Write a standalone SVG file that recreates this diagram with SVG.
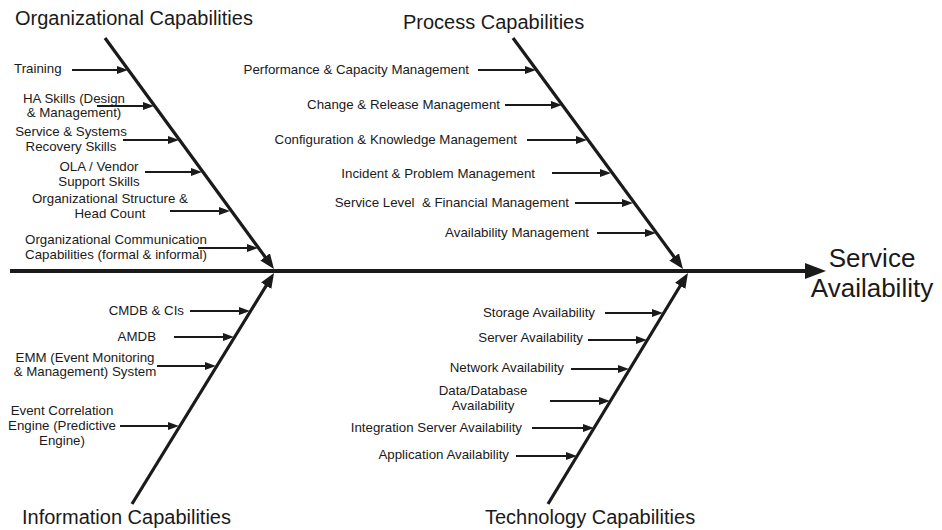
<svg xmlns="http://www.w3.org/2000/svg" width="942" height="530" viewBox="0 0 942 530">
<defs>
<style>
text{font-family:"Liberation Sans",Arial,sans-serif;fill:#1a1a1a;}
.t{font-size:13.3px;}
.h{font-size:20px;}
.r{text-anchor:end;}
.c{text-anchor:middle;}
.s{stroke:#1a1a1a;stroke-width:2;fill:none;marker-end:url(#ah);}
.b{stroke:#1a1a1a;stroke-width:3.2;fill:none;marker-end:url(#bh);}
.m{stroke:#1a1a1a;stroke-width:4;fill:none;marker-end:url(#mh);}
</style>
<marker id="ah" markerUnits="userSpaceOnUse" markerWidth="12" markerHeight="10" refX="1" refY="5" orient="auto"><path d="M0,1 L11,5 L0,9 z" fill="#1a1a1a"/></marker>
<marker id="bh" markerUnits="userSpaceOnUse" markerWidth="16" markerHeight="12" refX="1" refY="6" orient="auto"><path d="M0,0 L15,6 L0,12 z" fill="#1a1a1a"/></marker>
<marker id="mh" markerUnits="userSpaceOnUse" markerWidth="22" markerHeight="16" refX="1" refY="8" orient="auto"><path d="M0,0 L21,8 L0,16 z" fill="#1a1a1a"/></marker>
</defs>
<rect width="942" height="530" fill="#ffffff"/>

<g id="connectors">
<line class="m" x1="10" y1="271" x2="806" y2="271"/>
<line class="b" x1="105" y1="38" x2="265.7" y2="257.7"/>
<line class="b" x1="513" y1="38" x2="674.7" y2="257.7"/>
<line class="b" x1="132" y1="504" x2="266.7" y2="284.9"/>
<line class="b" x1="548" y1="504" x2="680.7" y2="285"/>
<line class="s" x1="72" y1="70" x2="118" y2="70"/>
<line class="s" x1="97" y1="106" x2="144" y2="106"/>
<line class="s" x1="123" y1="140" x2="169" y2="140"/>
<line class="s" x1="145" y1="172" x2="192" y2="172"/>
<line class="s" x1="170" y1="211" x2="220" y2="211"/>
<line class="s" x1="198" y1="248" x2="248" y2="248"/>
<line class="s" x1="478" y1="70" x2="526" y2="70"/>
<line class="s" x1="505" y1="105" x2="552" y2="105"/>
<line class="s" x1="527" y1="140" x2="577" y2="140"/>
<line class="s" x1="552" y1="173" x2="601" y2="173"/>
<line class="s" x1="575" y1="203" x2="623" y2="203"/>
<line class="s" x1="597" y1="233" x2="646" y2="233"/>
<line class="s" x1="190" y1="311" x2="240" y2="311"/>
<line class="s" x1="174" y1="337" x2="224" y2="337"/>
<line class="s" x1="157" y1="366" x2="206" y2="366"/>
<line class="s" x1="120" y1="426" x2="169" y2="426"/>
<line class="s" x1="605" y1="313" x2="653" y2="313"/>
<line class="s" x1="588" y1="340" x2="637" y2="340"/>
<line class="s" x1="571" y1="369" x2="619" y2="369"/>
<line class="s" x1="550" y1="401" x2="600" y2="401"/>
<line class="s" x1="532" y1="428" x2="584" y2="428"/>
<line class="s" x1="516" y1="456" x2="567" y2="456"/>
</g>

<g id="org-title"><text class="h" x="15" y="25">Organizational Capabilities</text></g>
<g id="proc-title"><text class="h" x="403" y="29">Process Capabilities</text></g>
<g id="info-title"><text class="h" x="22" y="524">Information Capabilities</text></g>
<g id="tech-title"><text class="h" x="485" y="524">Technology Capabilities</text></g>
<g id="effect"><text class="c" x="872" y="267" style="font-size:26px">Service</text><text class="c" x="872" y="297" style="font-size:26px">Availability</text></g>

<g id="training"><text class="t" x="14" y="73">Training</text></g>
<g id="ha-skills"><text class="t c" x="74" y="103">HA Skills (Design</text><text class="t c" x="74" y="117">&amp; Management)</text></g>
<g id="recovery-skills"><text class="t c" x="71" y="136">Service &amp; Systems</text><text class="t c" x="71" y="151">Recovery Skills</text></g>
<g id="ola"><text class="t c" x="99" y="171">OLA / Vendor</text><text class="t c" x="99" y="186">Support Skills</text></g>
<g id="org-structure"><text class="t c" x="110" y="203">Organizational Structure &amp;</text><text class="t c" x="110" y="218">Head Count</text></g>
<g id="org-comm"><text class="t c" x="116" y="244">Organizational Communication</text><text class="t c" x="116" y="259">Capabilities (formal &amp; informal)</text></g>

<g id="perf"><text class="t r" x="469" y="74">Performance &amp; Capacity Management</text></g>
<g id="change"><text class="t r" x="500" y="109">Change &amp; Release Management</text></g>
<g id="config"><text class="t r" x="517" y="144">Configuration &amp; Knowledge Management</text></g>
<g id="incident"><text class="t r" x="535" y="178">Incident &amp; Problem Management</text></g>
<g id="service-level"><text class="t r" x="569" y="207" style="white-space:pre">Service Level  &amp; Financial Management</text></g>
<g id="avail-mgmt"><text class="t r" x="589" y="237">Availability Management</text></g>

<g id="cmdb"><text class="t r" x="184" y="315">CMDB &amp; CIs</text></g>
<g id="amdb"><text class="t r" x="156" y="341">AMDB</text></g>
<g id="emm"><text class="t c" x="85" y="362">EMM (Event Monitoring</text><text class="t c" x="85" y="376">&amp; Management) System</text></g>
<g id="event-corr"><text class="t c" x="62" y="415">Event Correlation</text><text class="t c" x="62" y="430">Engine (Predictive</text><text class="t c" x="62" y="445">Engine)</text></g>

<g id="storage"><text class="t r" x="595" y="317">Storage Availability</text></g>
<g id="server"><text class="t r" x="583" y="342">Server Availability</text></g>
<g id="network"><text class="t r" x="564" y="372">Network Availability</text></g>
<g id="data"><text class="t c" x="483" y="395">Data/Database</text><text class="t c" x="483" y="410">Availability</text></g>
<g id="integration"><text class="t r" x="522" y="432">Integration Server Availability</text></g>
<g id="application"><text class="t r" x="509" y="459">Application Availability</text></g>
</svg>
